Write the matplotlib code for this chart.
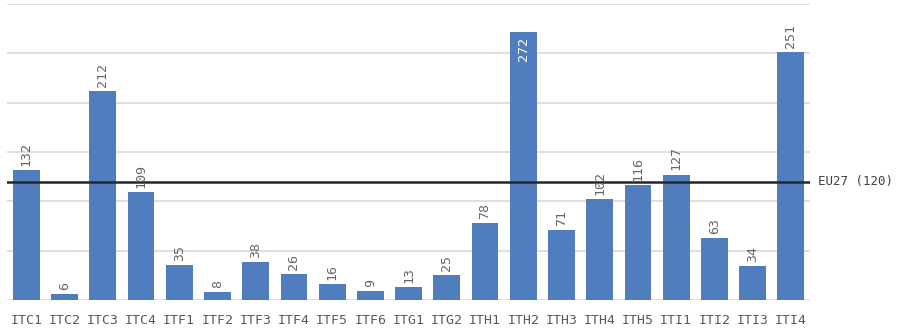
import matplotlib.pyplot as plt

regions = ["ITC1", "ITC2", "ITC3", "ITC4", "ITF1", "ITF2", "ITF3", "ITF4", "ITF5",
           "ITF6", "ITG1", "ITG2", "ITH1", "ITH2", "ITH3", "ITH4", "ITH5", "ITI1",
           "ITI2", "ITI3", "ITI4"]
values = [132, 6, 212, 109, 35, 8, 38, 26, 16, 9, 13, 25, 78, 272, 71, 102, 116,
          127, 63, 34, 251]
eu27 = 120
eu27_label = "EU27 (120)"

mono = "DejaVu Sans Mono"
grey = "#595959"

fig = plt.figure(figsize=(8.97, 3.31), dpi=100)
ax = fig.add_axes([0.008, 0.094, 0.895, 0.894])

x = range(len(regions))
bars = ax.bar(x, values, width=0.7, color="#4f7dbd", zorder=2)

ax.set_xlim(-0.5, len(regions) - 0.5)
ax.set_ylim(0, 300)
ax.set_yticks(range(0, 301, 50))
ax.yaxis.grid(True, color="#d9d9d9", linewidth=1.2, zorder=0)
ax.set_yticklabels([])
ax.tick_params(axis="y", length=0)
ax.tick_params(axis="x", length=0, pad=10)
ax.set_xticks(list(x))
ax.set_xticklabels(regions, family=mono, fontsize=9.5, color=grey)
for s in ax.spines.values():
    s.set_visible(False)

# value labels, rotated; the tallest one goes inside the bar
for b, v in zip(bars, values):
    cx = b.get_x() + b.get_width() / 2
    if v > 260:
        ax.annotate(str(v), (cx, v), xytext=(0, -4), textcoords="offset points",
                    rotation=90, ha="center", va="top", color="white",
                    family=mono, fontsize=9.5, zorder=4)
    else:
        ax.annotate(str(v), (cx, v), xytext=(0, 3), textcoords="offset points",
                    rotation=90, ha="center", va="bottom", color="#666666",
                    family=mono, fontsize=9.5, zorder=4)

# EU27 reference line
ax.axhline(eu27, color="#262626", linewidth=1.8, zorder=3)
ax.annotate(eu27_label, (1, eu27), xycoords=("axes fraction", "data"),
            xytext=(6, 0), textcoords="offset points", va="center", ha="left",
            color="#404040", family=mono, fontsize=9,
            annotation_clip=False)

fig.savefig("out.png", dpi=100)
